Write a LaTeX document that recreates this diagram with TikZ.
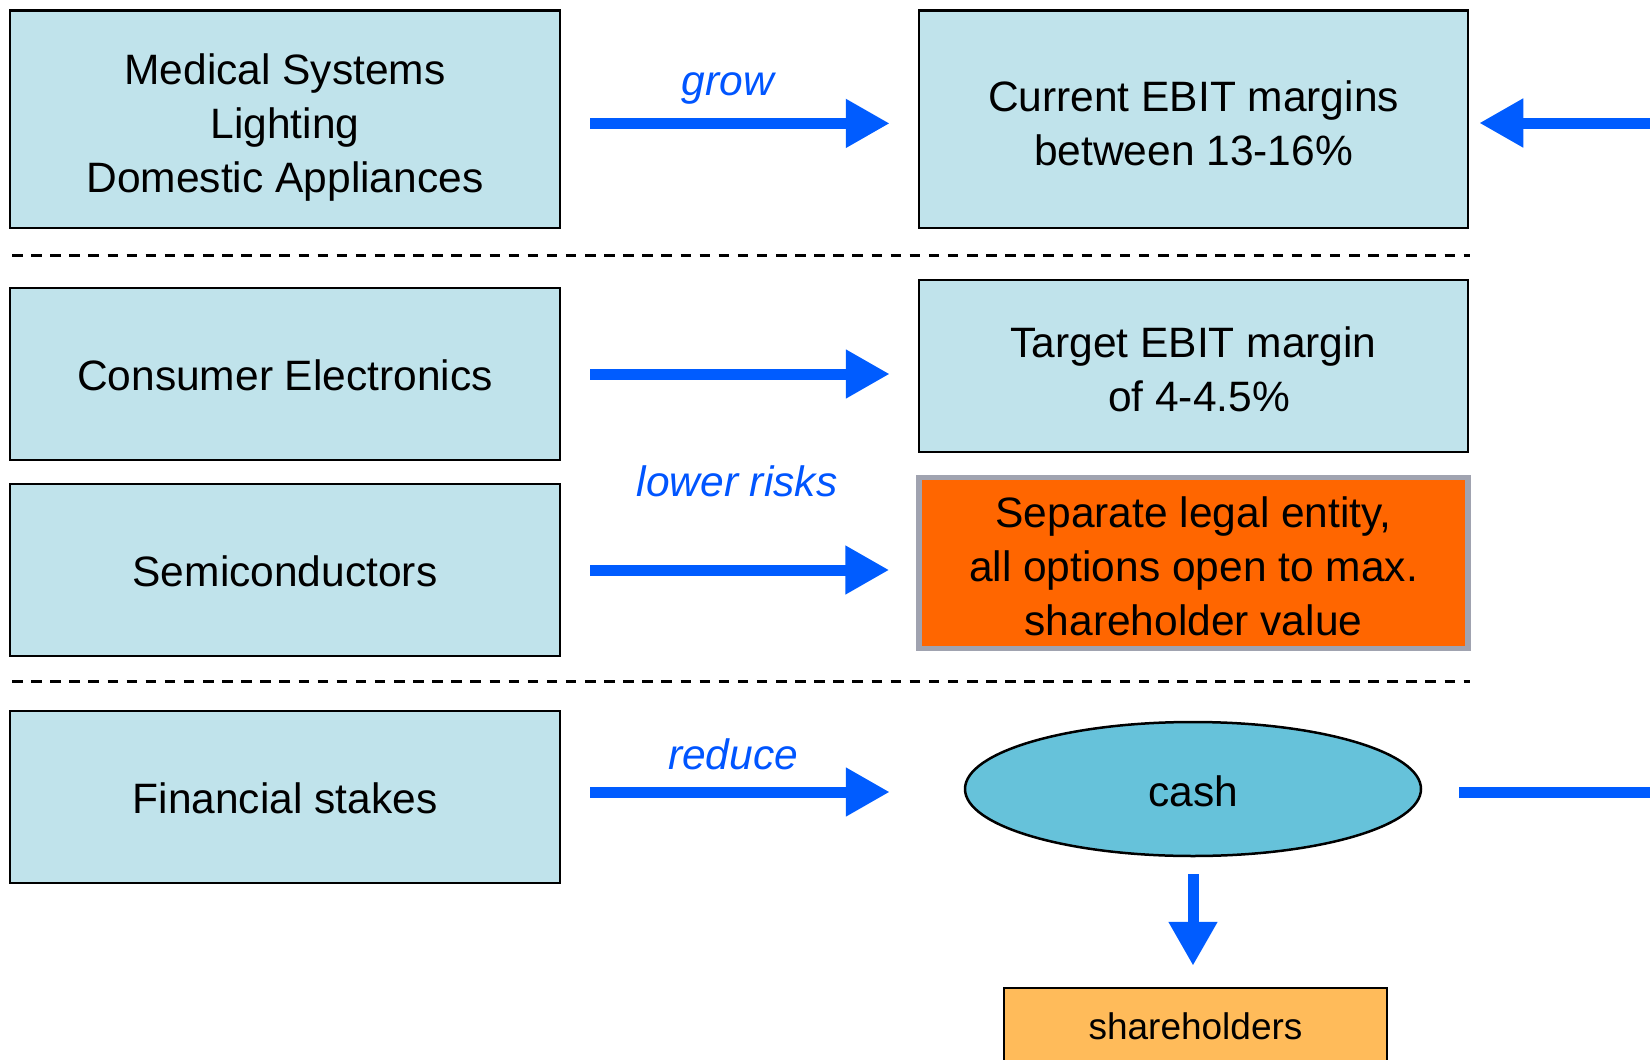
\documentclass[tikz,border=0pt]{standalone}
\usepackage{fontspec}
\setmainfont{Liberation Sans}
\usetikzlibrary{arrows.meta,shapes.geometric,calc}

\definecolor{boxblue}{RGB}{192,227,235}
\definecolor{cashblue}{RGB}{102,194,218}
\definecolor{flowblue}{RGB}{0,92,255}
\definecolor{labelblue}{RGB}{0,85,255}
\definecolor{edgegray}{RGB}{160,163,176}
\definecolor{holderorange}{RGB}{255,187,90}
\definecolor{alertorange}{RGB}{255,102,0}

\tikzset{
  bigtext/.style={font=\fontsize{42.5}{54}\selectfont},
  % vertical placement of the text: baseline of the last line lies #1 below the centre
  baselineat/.style={text height=2*#1, text depth=0pt},
  unitbox/.style={draw=black, line width=2.5pt, fill=boxblue, rectangle,
    minimum width=550pt, inner sep=0pt, align=center, bigtext},
  alertbox/.style={draw=edgegray, line width=5.5pt, fill=alertorange, rectangle,
    minimum width=549pt, inner sep=0pt, align=center, bigtext},
  cashnode/.style={draw=black, line width=2.5pt, fill=cashblue, ellipse,
    minimum width=456pt, minimum height=134pt, inner sep=0pt, bigtext},
  holderbox/.style={draw=black, line width=2.5pt, fill=holderorange, rectangle,
    minimum width=383pt, minimum height=76pt, inner sep=0pt,
    font=\fontsize{37}{44}\selectfont},
  flowlabel/.style={text=labelblue, font=\fontsize{42.5}{54}\selectfont\itshape, inner sep=0pt},
  flowline/.style={draw=flowblue, line width=11pt},
  flow/.style={flowline, -{Triangle[length=44pt,width=46pt]}},
  divider/.style={draw=black, line width=3pt, dash pattern=on 10.5pt off 8.6pt},
}

\begin{document}
\begin{tikzpicture}[x=1pt, y=-1pt]
  \useasboundingbox (0,0) rectangle (1650,1060);

  % business units on the left
  \node[unitbox, minimum height=217.5pt, baselineat=72.8pt] (ms) at (285,119.4)
    {Medical Systems\\Lighting\\Domestic Appliances};
  \node[unitbox, minimum height=172pt, baselineat=16pt] (ce) at (285,374) {Consumer Electronics};
  \node[unitbox, minimum height=172pt, baselineat=16pt] (sc) at (285,570) {Semiconductors};
  \node[unitbox, minimum height=172pt, baselineat=16pt] (fs) at (285,797) {Financial stakes};

  % outcomes on the right
  \node[unitbox, minimum width=549pt, minimum height=217.5pt, baselineat=46.3pt]
    (cur) at (1193.5,119.4) {Current EBIT margins\\between 13-16\%};
  \node[unitbox, minimum width=549pt, minimum height=172pt, baselineat=45.9pt]
    (tg) at (1193.5,366) {Target EBIT margin\\\hspace*{11pt}of 4-4.5\%};
  \node[alertbox, minimum height=171pt, baselineat=72pt] (sep) at (1193.5,563)
    {Separate legal entity,\\all options open to max.\\shareholder value};
  \node[cashnode, baselineat=17pt] (cash) at (1193,789) {cash};
  \node[holderbox] (sh) at (1195.5,1026) {shareholders};

  % group dividers
  \coordinate (d1l) at (12,255);
  \coordinate (d1r) at (1470,255);
  \coordinate (d2l) at (12,681);
  \coordinate (d2r) at (1470,681);
  \draw[divider] (d1l) -- (d1r);
  \draw[divider] (d2l) -- (d2r);

  % flows
  \draw[flow, shorten <=29pt, shorten >=28pt]
    ([yshift=-4pt]ms.east) -- ([yshift=-4pt]ms.east -| cur.west);
  \draw[flow, shorten <=29pt, shorten >=28pt] (ce.east) -- (ce.east -| tg.west);
  \draw[flow, shorten <=29pt, shorten >=27pt] (sc.east) -- (sc.east -| sep.west);
  \draw[flow, shorten <=29pt, shorten >=74pt]
    ([yshift=5pt]fs.east) -- ([yshift=5pt]fs.east -| cash.west);

  \coordinate (inTop) at (1650,123);
  \draw[flow, shorten >=10pt] (inTop) -- (inTop -| cur.east);
  \coordinate (outBottom) at (1650,792);
  \draw[flowline, shorten <=37pt] (outBottom -| cash.east) -- (outBottom);

  \draw[flow, shorten <=17pt, shorten >=21pt] (cash.south) -- (cash.south |- sh.north);

  % flow labels
  \node[flowlabel] (lgrow) at (728,88.5) {grow};
  \node[flowlabel] (lrisk) at (737,481) {lower risks};
  \node[flowlabel] (lreduce) at (733,754) {reduce};
\end{tikzpicture}
\end{document}
